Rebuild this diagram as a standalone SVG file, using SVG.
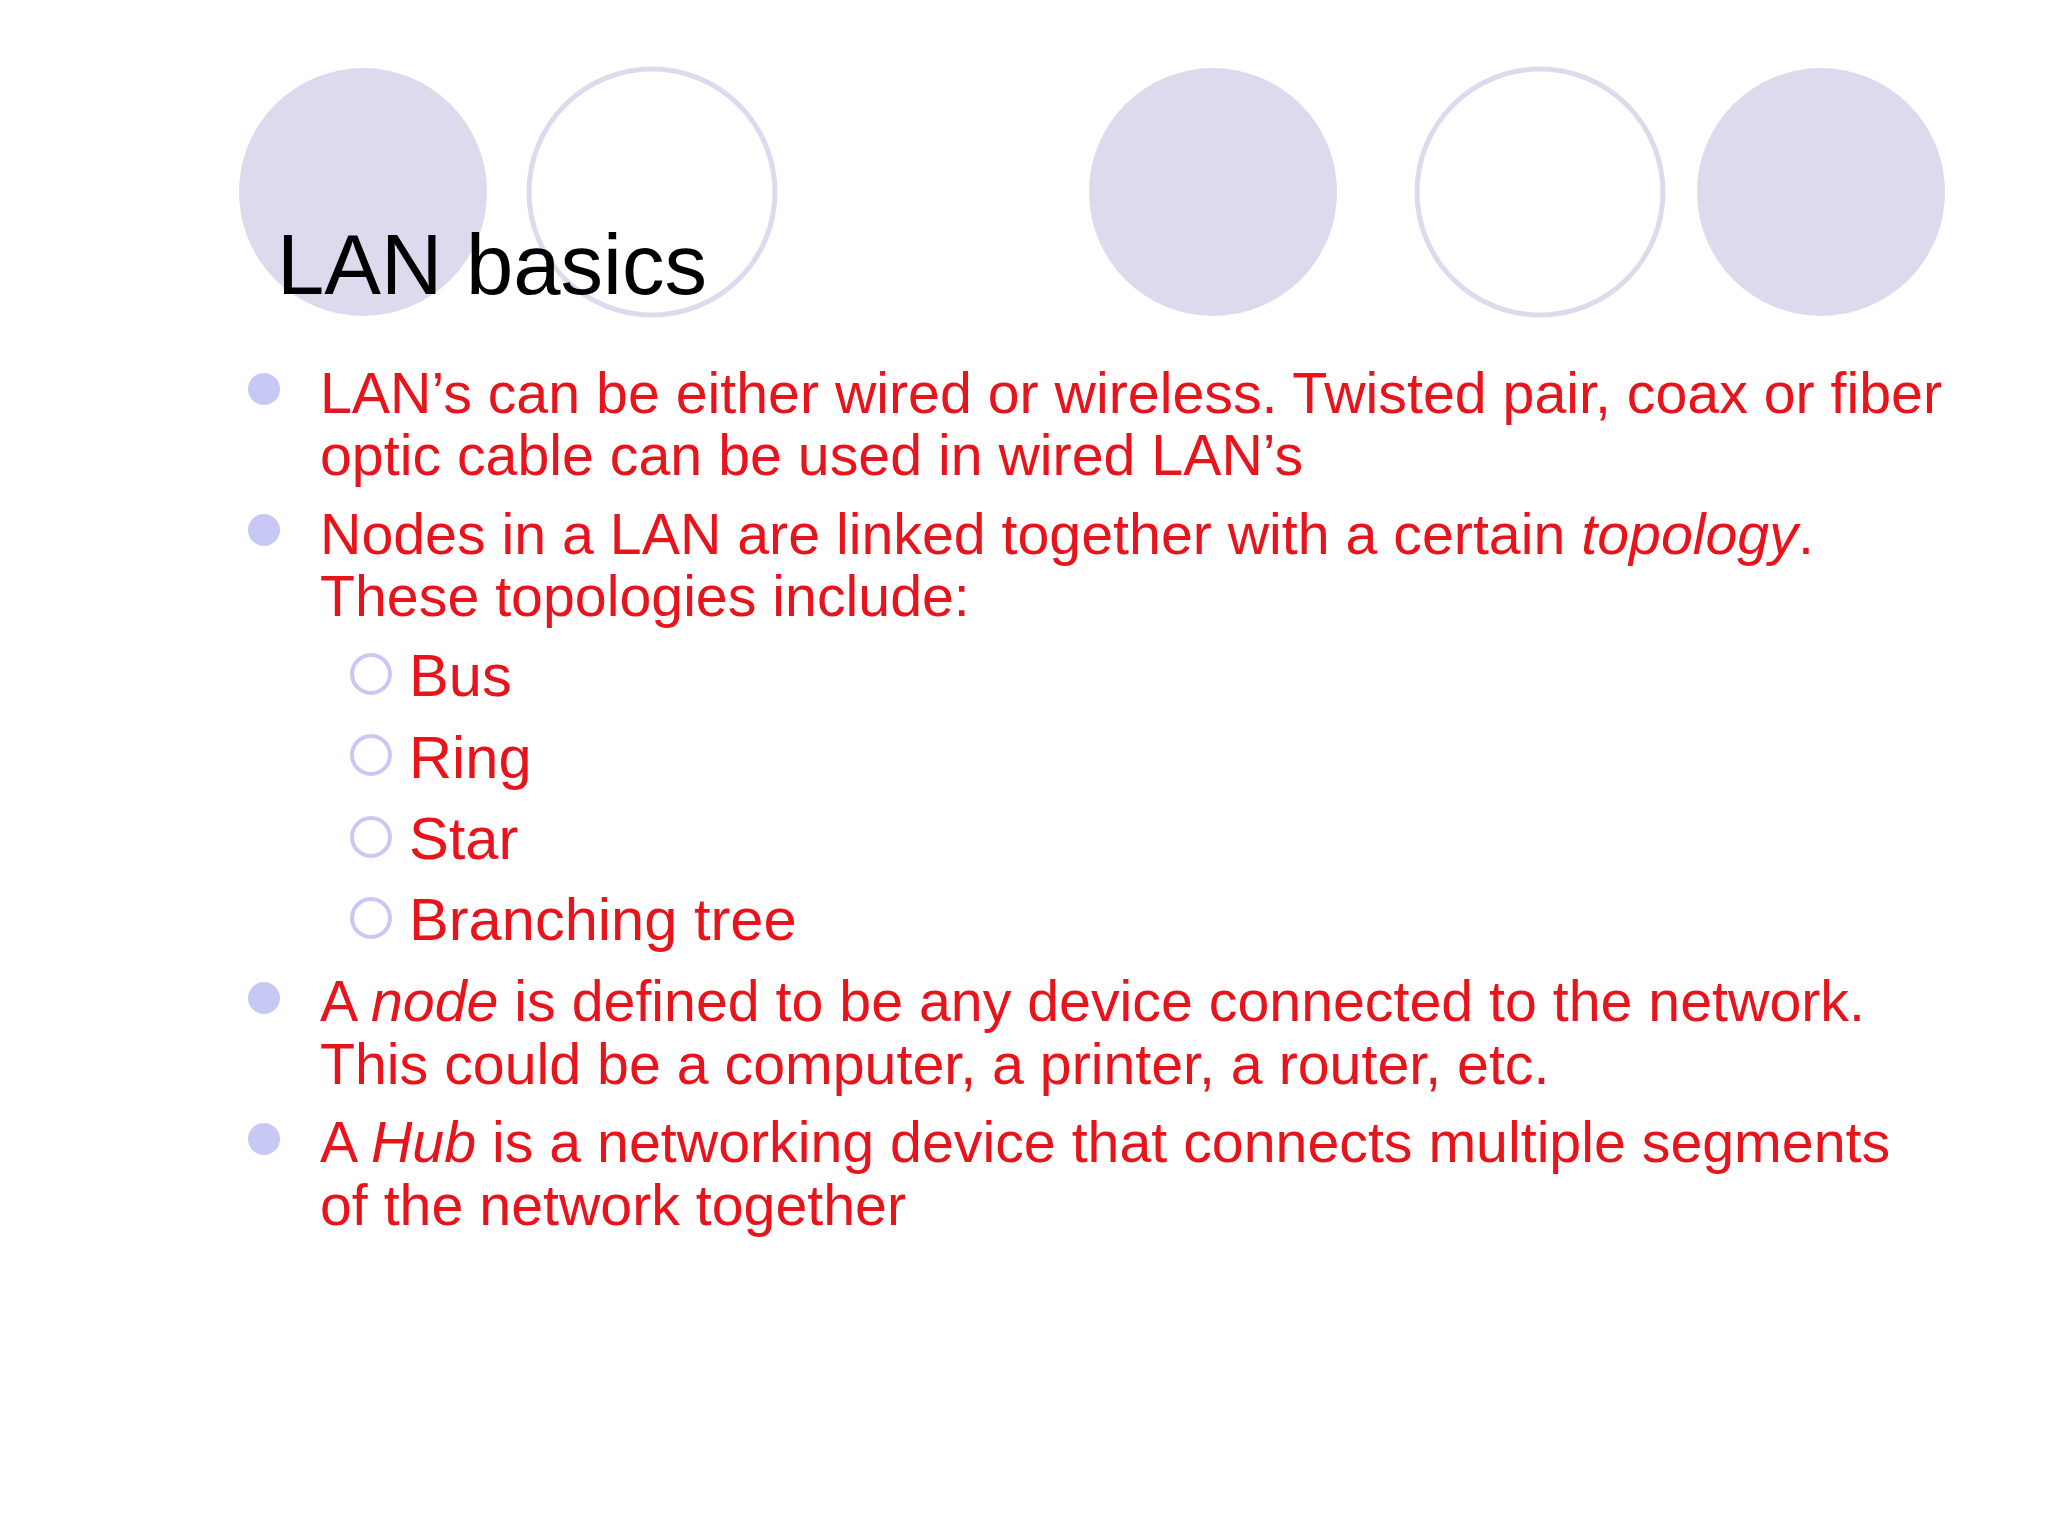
<svg xmlns="http://www.w3.org/2000/svg" width="2048" height="1536" viewBox="0 0 2048 1536">
<style>
.f{fill:#dcdbee}
.o{fill:none;stroke:#dcdbee;stroke-width:5}
.t{font-family:"Liberation Sans",Arial,sans-serif;font-size:57.3px;fill:#e8141c}
.s{font-size:59.6px}
.b{fill:#c8c8f4}
.h{fill:none;stroke:#c8c8f4;stroke-width:4}
</style>
<rect width="2048" height="1536" fill="#ffffff"/>
<g id="decor">
<circle class="f" cx="363" cy="192" r="124"/>
<circle class="o" cx="652" cy="192" r="123"/>
<circle class="f" cx="1213" cy="192" r="124"/>
<circle class="o" cx="1540" cy="192" r="123"/>
<circle class="f" cx="1821" cy="192" r="124"/>
</g>
<g id="title"><text x="277" y="294" font-family="Liberation Sans,Arial,sans-serif" font-size="85" fill="#000">LAN basics</text></g>
<g id="bullets">
<circle class="b" cx="264" cy="389" r="16"/>
<circle class="b" cx="264" cy="530" r="16"/>
<circle class="b" cx="264" cy="998" r="16"/>
<circle class="b" cx="264" cy="1139" r="16"/>
<circle class="h" cx="371" cy="674" r="19"/>
<circle class="h" cx="371" cy="755" r="19"/>
<circle class="h" cx="371" cy="837" r="19"/>
<circle class="h" cx="371" cy="918" r="19"/>
</g>
<g id="text" class="t">
<text x="320" y="413">LAN’s can be either wired or wireless. Twisted pair, coax or fiber</text>
<text x="320" y="475">optic cable can be used in wired LAN’s</text>
<text x="320" y="554">Nodes in a LAN are linked together with a certain <tspan font-style="italic">topology</tspan>.</text>
<text x="320" y="616">These topologies include:</text>
<text class="s" x="409" y="696">Bus</text>
<text class="s" x="409" y="778">Ring</text>
<text class="s" x="409" y="859">Star</text>
<text class="s" x="409" y="940">Branching tree</text>
<text x="320" y="1021">A <tspan font-style="italic">node</tspan> is defined to be any device connected to the network.</text>
<text x="320" y="1084">This could be a computer, a printer, a router, etc.</text>
<text x="320" y="1162">A <tspan font-style="italic">Hub</tspan> is a networking device that connects multiple segments</text>
<text x="320" y="1225">of the network together</text>
</g>
</svg>
